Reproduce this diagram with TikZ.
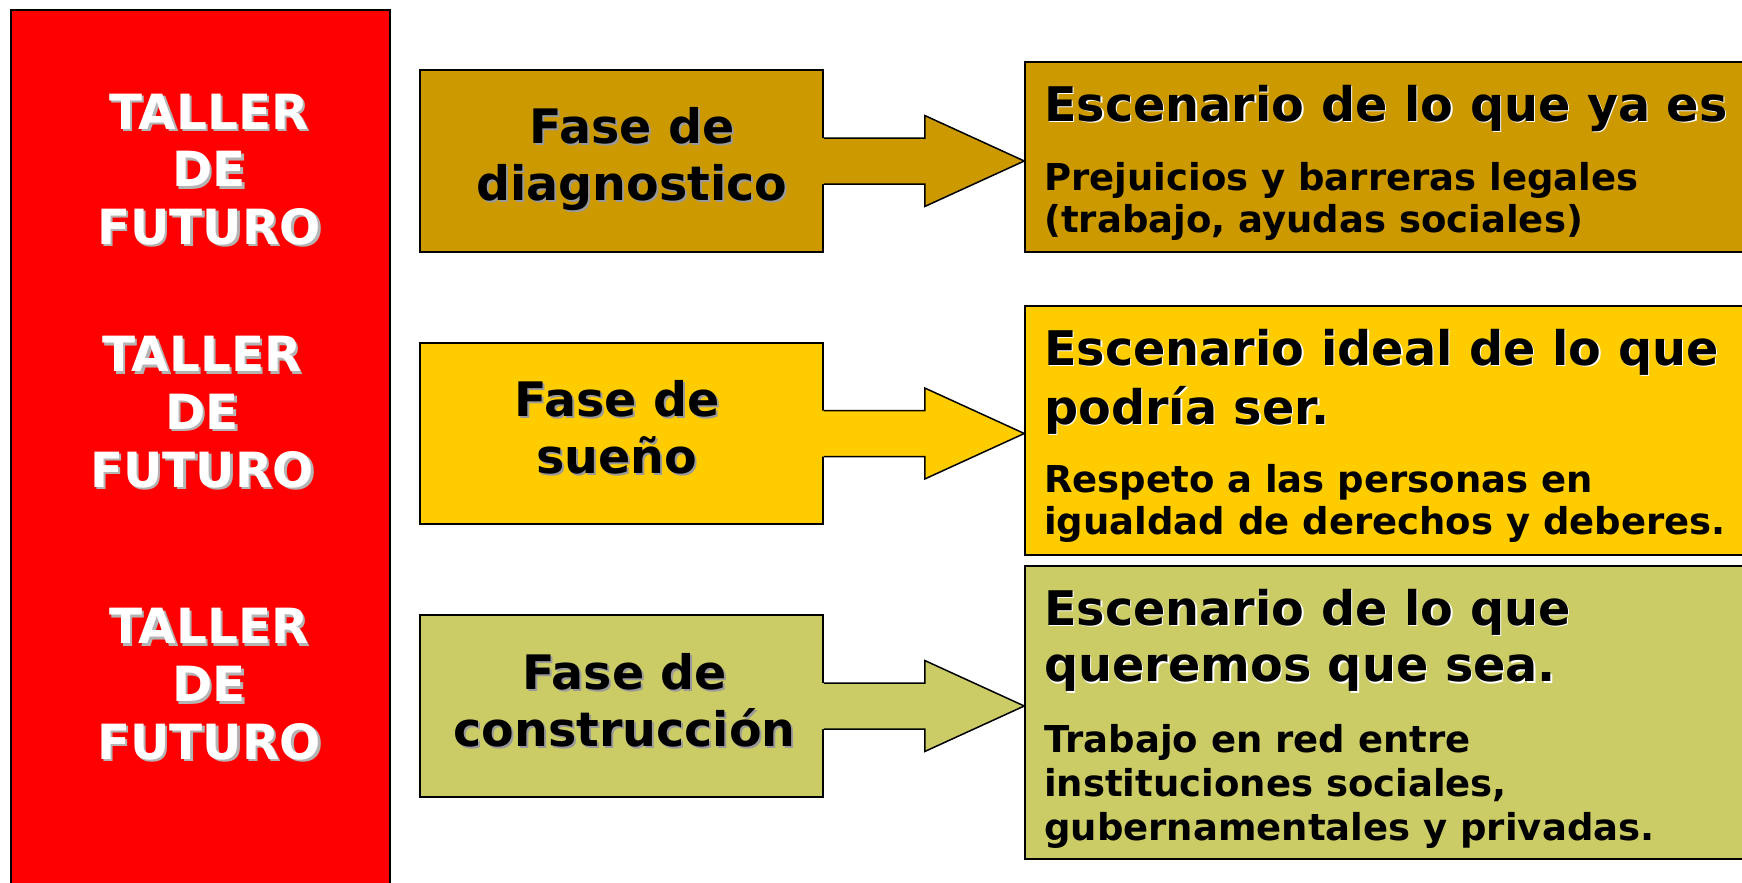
\documentclass[tikz,border=0pt]{standalone}
\usepackage{fontspec}
\setmainfont{DejaVu Sans}
\usetikzlibrary{calc}
\definecolor{gold}{HTML}{CC9900}
\definecolor{yel}{HTML}{FFCC00}
\definecolor{oliv}{HTML}{CCCC66}
\definecolor{redbox}{HTML}{FF0000}
\definecolor{shgray}{HTML}{B4B4B4}
\definecolor{phgray}{HTML}{9A9A9A}
\newcommand\shtxt[3]{\makebox[0pt][l]{\hspace{#3}\raisebox{-#3}{\color{#1}#2}}#2}
\newcommand\pharrow[3]{%
  \fill[#3] ($(#1.east)+(-2,-23)$) -- ($(#1.east)+(101,-23)$) -- ($(#1.east)+(101,-45.5)$) -- (#1.east -| #2.west) -- ($(#1.east)+(101,45.5)$) -- ($(#1.east)+(101,23)$) -- ($(#1.east)+(-2,23)$) -- cycle;
  \draw[line width=1.5pt, line join=miter] ($(#1.east)+(0,-23)$) -- ($(#1.east)+(101,-23)$) -- ($(#1.east)+(101,-45.5)$) -- (#1.east -| #2.west) -- ($(#1.east)+(101,45.5)$) -- ($(#1.east)+(101,23)$) -- ($(#1.east)+(0,23)$);}
\tikzset{
  box/.style={draw=black, line width=1.5pt, inner sep=0pt, rectangle},
  tal/.style={anchor=base, inner sep=0pt, text=white, font=\fontsize{48.5}{58}\selectfont\bfseries},
  ph/.style={anchor=base, inner sep=0pt, text=black, font=\fontsize{47.5}{57}\selectfont\bfseries},
  hd/.style={anchor=base west, inner sep=0pt, text=black, font=\fontsize{47.7}{57}\selectfont\bfseries},
  bd/.style={anchor=base west, inner sep=0pt, text=black, font=\fontsize{37}{44}\selectfont\bfseries}
}
\newcommand\TAL[1]{\shtxt{shgray}{#1}{2.5pt}}
\newcommand\PH[1]{\shtxt{phgray}{#1}{2pt}}
\newcommand\HD[1]{\shtxt{white}{#1}{1.5pt}}
\begin{document}
\begin{tikzpicture}[x=1pt,y=-1pt]
\useasboundingbox[fill=white] (0,0) rectangle (1742,883);
% red column
\node[box, fill=redbox, minimum width=379pt, minimum height=890pt] (red) at (200.5,455) {};
% phase boxes
\node[box, fill=gold, minimum width=403pt, minimum height=182pt] (p1) at (621.5,161) {};
\node[box, fill=yel,  minimum width=403pt, minimum height=181pt] (p2) at (621.5,433.5) {};
\node[box, fill=oliv, minimum width=403pt, minimum height=182pt] (p3) at (621.5,706) {};
% scenario boxes
\node[box, fill=gold, minimum width=735pt, minimum height=190pt] (s1) at (1392.5,157) {};
\node[box, fill=yel,  minimum width=735pt, minimum height=249pt] (s2) at (1392.5,430.5) {};
\node[box, fill=oliv, minimum width=735pt, minimum height=293pt] (s3) at (1392.5,712.5) {};
% arrows
\pharrow{p1}{s1}{gold}
\pharrow{p2}{s2}{yel}
\pharrow{p3}{s3}{oliv}
% TALLER DE FUTURO
\node[tal] (t1a) at (209,129.3) {\TAL{TALLER}};
\node[tal] (t1b) at (209,186.7) {\TAL{DE}};
\node[tal] (t1c) at (209,244) {\TAL{FUTURO}};
\node[tal] (t2a) at (202,371.7) {\TAL{TALLER}};
\node[tal] (t2b) at (202,429.4) {\TAL{DE}};
\node[tal] (t2c) at (202,487) {\TAL{FUTURO}};
\node[tal] (t3a) at (209,643.9) {\TAL{TALLER}};
\node[tal] (t3b) at (209,701.5) {\TAL{DE}};
\node[tal] (t3c) at (209,759) {\TAL{FUTURO}};
% phase texts
\node[ph] (p1a) at (632,143.3) {\PH{Fase de}};
\node[ph] (p1b) at (632,200) {\PH{diagnostico}};
\node[ph] (p2a) at (617,416) {\PH{Fase de}};
\node[ph] (p2b) at (617,473) {\PH{sueño}};
\node[ph] (p3a) at (624.5,689) {\PH{Fase de}};
\node[ph] (p3b) at (624.5,746.7) {\PH{construcción}};
% scenario headings
\node[hd] (h1a) at (1044,121) {\HD{Escenario de lo que ya es}};
\node[hd] (h2a) at (1044,365) {\HD{Escenario ideal de lo que}};
\node[hd] (h2b) at (1044,424) {\HD{podría ser.}};
\node[hd] (h3a) at (1044,625) {\HD{Escenario de lo que}};
\node[hd] (h3b) at (1044,681.7) {\HD{queremos que sea.}};
% scenario bodies
\node[bd] (b1a) at (1044,190.5) {Prejuicios y barreras legales};
\node[bd] (b1b) at (1044,232) {(trabajo, ayudas sociales)};
\node[bd] (b2a) at (1044,492.5) {Respeto a las personas en};
\node[bd] (b2b) at (1044,534) {igualdad de derechos y deberes.};
\node[bd] (b3a) at (1044,752.5) {Trabajo en red entre};
\node[bd] (b3b) at (1044,796) {instituciones sociales,};
\node[bd] (b3c) at (1044,840) {gubernamentales y privadas.};
\end{tikzpicture}
\end{document}
